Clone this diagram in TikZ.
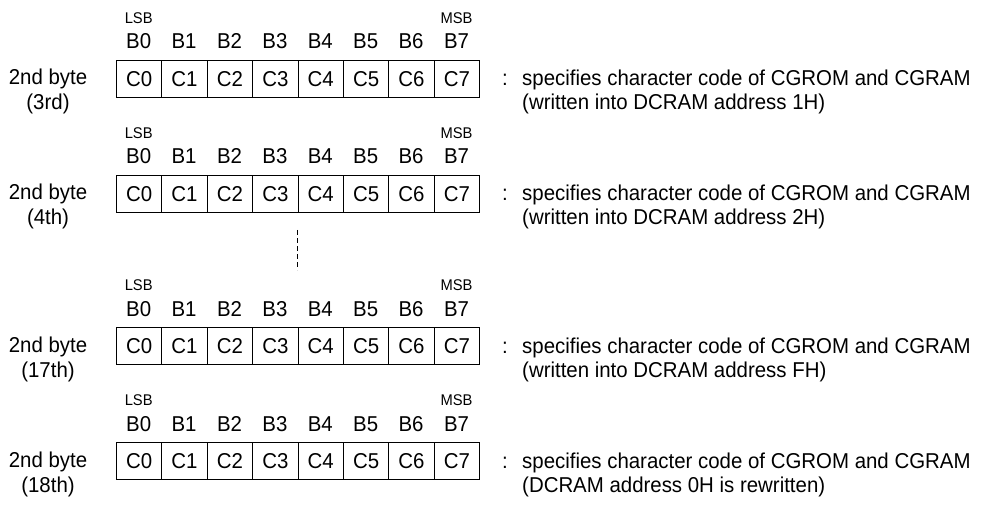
\documentclass[tikz,border=0pt]{standalone}
\usepackage{fontspec}
\setmainfont{Liberation Sans}[FakeStretch=0.95]
\begin{document}
\begin{tikzpicture}[x=1pt,y=-1pt,
  cell/.style={draw,line width=0.9pt,minimum width=45.4pt,minimum height=37pt,inner sep=0pt,anchor=north west,font=\fontsize{21.5}{25}\selectfont},
  blab/.style={anchor=base,inner sep=0pt,font=\fontsize{21.5}{25}\selectfont},
  small/.style={anchor=base,inner sep=0pt,font=\fontsize{15.5}{18}\selectfont},
  txt/.style={anchor=base west,inner sep=0pt,font=\fontsize{21.5}{25}\selectfont},
  ctxt/.style={anchor=base,inner sep=0pt,font=\fontsize{21.5}{25}\selectfont},
  dotline/.style={line width=0.9pt,dash pattern=on 5pt off 3pt}]
\useasboundingbox (0,0) rectangle (985,505);
\foreach \r/\T/\ord/\desc in {1/60/(3rd)/(written into DCRAM address 1H),
                             2/175/(4th)/(written into DCRAM address 2H),
                             3/327/(17th)/(written into DCRAM address FH),
                             4/442/(18th)/(DCRAM address 0H is rewritten)}{
  \foreach \i in {0,...,7}{
    \node[cell] (r\r c\i) at ({116+45.4*\i},\T) {C\i};
    \node[blab] (r\r b\i) at ({116+45.4*\i+22.7},\T-11) {B\i};
  }
  \node[small] (r\r lsb) at (116+22.7,\T-36.6) {LSB};
  \node[small] (r\r msb) at (116+45.4*7+22.7,\T-36.6) {MSB};
  \node[ctxt] (r\r n1) at (48,\T+25) {2nd byte};
  \node[ctxt] (r\r n2) at (48,\T+50) {\ord};
  \node[txt] (r\r col) at (502,\T+26) {:};
  \node[txt] (r\r d1) at (522,\T+26) {specifies character code of CGROM and CGRAM};
  \node[txt] (r\r d2) at (522,\T+50) {\desc};
}
\coordinate (dtop) at (297.6,230);
\coordinate (dbot) at (297.6,270);
\draw[dotline] (dtop) -- (dbot);
\end{tikzpicture}
\end{document}
